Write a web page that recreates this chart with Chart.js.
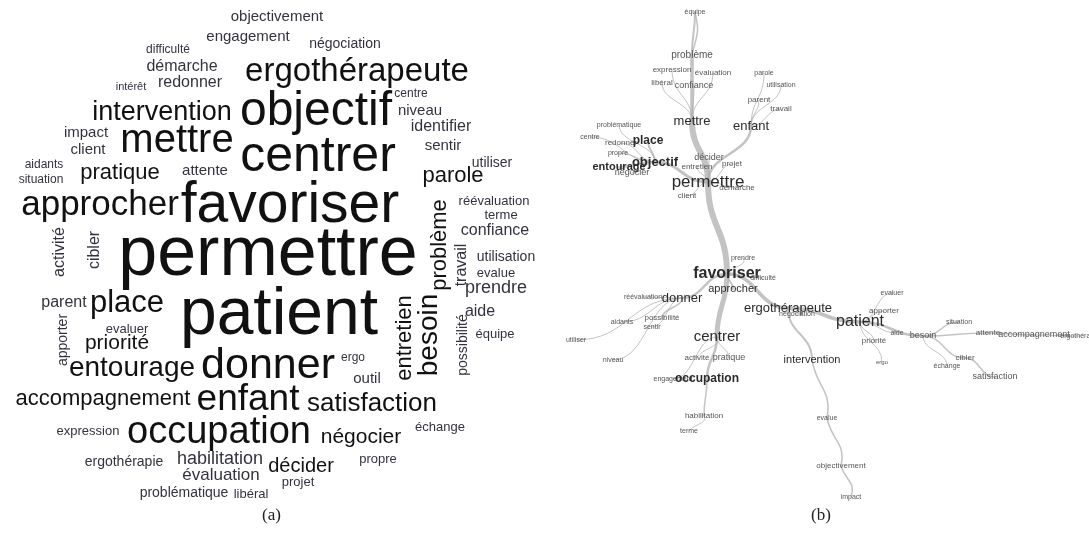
<!DOCTYPE html>
<html>
<head>
<meta charset="utf-8">
<script src="https://cdn.jsdelivr.net/npm/chart.js@4"></script>
<style>
  html, body { margin: 0; padding: 0; background: #fff; }
  #page { position: relative; width: 1089px; height: 541px; overflow: hidden; }
  .panel { position: absolute; top: 0; height: 541px; }
  #left { left: 0; width: 545px; }
  #right { left: 545px; width: 544px; }
  .cap { position: absolute; top: 505px; font: 17px "Liberation Serif", "DejaVu Serif", serif; color: #222; }
</style>
</head>
<body>
<div id="page">
  <div class="panel" id="left"><canvas id="cloud"></canvas></div>
  <div class="panel" id="right"><canvas id="tree"></canvas></div>
  <div class="cap" style="left:262px">(a)</div>
  <div class="cap" style="left:811px">(b)</div>
</div>
<script>
// nuage de mots (a)
const cloudWords = ["objectivement","engagement","difficulté","démarche","négociation","ergothérapeute","intérêt","redonner","centre","niveau",
  "identifier","intervention","objectif","impact","client","mettre","centrer","sentir","utiliser","parole",
  "aidants","situation","pratique","attente","approcher","favoriser","réévaluation","terme","confiance","permettre",
  "activité","cibler","problème","travail","utilisation","evalue","prendre","aide","équipe","possibilité",
  "entretien","besoin","parent","place","patient","apporter","evaluer","priorité","entourage","donner",
  "ergo","outil","accompagnement","enfant","satisfaction","expression","occupation","négocier","échange","ergothérapie",
  "habilitation","décider","propre","évaluation","projet","problématique","libéral"];
const cloudX = [277,248,168,182,345,357,131,190,411,420,
  441,162,316,86,88,177,318,443,492,453,
  44,41,120,205,100,290,494,501,495,268,
  60,95,440,462,506,496,496,480,495,463,
  405,429,64,127,279,63,127,117,132,268,
  353,367,103,248,372,88,219,361,440,124,
  220,301,378,221,298,184,251];
const cloudY = [17,37,50,67,44,72,87,83,94,111,
  127,113,112,133,150,141,157,146,163,176,
  165,180,173,171,205,206,201,215,231,256,
  252,250,245,265,257,273,288,312,334,345,
  338,335,303,303,316,340,329,343,368,366,
  358,379,399,400,404,431,433,437,427,462,
  459,466,459,475,482,493,494];
const cloudSize = [15,15,12,16,14,33,11,16,12,15,
  16,27,48,15,15,40,50,15,14,22,
  12,12,22,15,35,57,13,13,16,70,
  16,16,22,16,14,13,18,16,13,14,
  22,28,16,31,66,14,13,21,28,43,
  12,15,22,37,26,13,38,21,13,14,
  18,20,13,17,13,14,13];
const cloudAngle = [0,0,0,0,0,0,0,0,0,0,
  0,0,0,0,0,0,0,0,0,0,
  0,0,0,0,0,0,0,0,0,0,
  -90,-90,-90,-90,0,0,0,0,0,-90,
  -90,-90,0,0,0,-90,0,0,0,0,
  0,0,0,0,0,0,0,0,0,0,
  0,0,0,0,0,0,0];

// arbre de similitude (b)
const treeNodes = ["équipe","problème","expression","évaluation","libéral","confiance","parole","utilisation","parent","travail",
  "mettre","enfant","problématique","centre","redonner","place","propre","objectif","entourage","négocier",
  "décider","entretien","projet","permettre","démarche","client","prendre","favoriser","difficulté","approcher",
  "réévaluation","donner","ergothérapeute","négociation","possibilité","aidants","sentir","utiliser","centrer","evaluer",
  "apporter","patient","aide","besoin","priorité","situation","attente","accompagnement","ergothérapie","intervention",
  "ergo","cibler","échange","satisfaction","niveau","activité","pratique","engagement","occupation","habilitation",
  "terme","evalue","objectivement","impact"];
const treeX = [695,692,672,713,662,694,764,781,759,781,
  692,751,619,590,621,648,618,655,619,632,
  709,697,732,708,737,687,743,727,763,733,
  643,682,788,797,662,622,652,576,717,892,
  884,860,897,923,874,959,988,1034,1080,812,
  882,965,947,995,613,697,729,673,707,704,
  689,827,841,851];
const treeY = [12,55,70,73,83,86,73,85,100,109,
  121,126,125,137,143,141,153,162,167,173,
  158,167,164,182,188,196,258,274,278,289,
  297,298,308,314,318,322,327,340,337,293,
  311,322,333,336,341,322,333,335,336,360,
  362,358,366,377,360,358,358,379,379,416,
  431,418,466,497];
const treeSize = [7,10,8,8,8,9,7,7,8,8,
  13,13,7,7,8,12,7,13,11,9,
  9,8,8,17,8,8,7,16,7,11,
  7,13,13,7,8,7,7,7,15,7,
  8,16,7,9,8,7,8,9,7,11,
  6,8,7,9,7,8,9,7,12,8,
  7,7,8,7];
const treeBold = ["place","objectif","entourage","favoriser","occupation"];
const edgeFrom = ["problème","problème","mettre","mettre","mettre","mettre","mettre","enfant","enfant","enfant","enfant",
  "permettre","permettre","objectif","objectif","objectif","objectif","objectif","objectif","objectif","permettre",
  "permettre","permettre","permettre","permettre","permettre","permettre","favoriser","favoriser","favoriser","favoriser",
  "donner","donner","donner","donner","donner","donner","favoriser","centrer","centrer","centrer",
  "centrer","occupation","habilitation","favoriser","ergothérapeute","ergothérapeute","intervention","evalue","objectivement","ergothérapeute",
  "patient","patient","patient","patient","patient","patient","besoin","besoin","attente","accompagnement",
  "besoin","besoin","cibler"];
const edgeTo = ["équipe","équipe","problème","expression","évaluation","libéral","confiance","parole","utilisation","parent","travail",
  "mettre","enfant","place","entourage","problématique","centre","redonner","propre","négocier","objectif",
  "décider","entretien","projet","démarche","client","favoriser","prendre","difficulté","approcher","donner",
  "réévaluation","possibilité","aidants","sentir","utiliser","niveau","centrer","activité","pratique","occupation",
  "engagement","habilitation","terme","ergothérapeute","négociation","intervention","evalue","objectivement","impact","patient",
  "evaluer","apporter","priorité","ergo","aide","besoin","situation","attente","accompagnement","ergothérapie",
  "cibler","échange","satisfaction"];
const edgeWeight = [2,1.5,3.5,1,1,1,1,1,1,1,1,
  6,2.5,2,2,1,1,1,1,1,3,
  1,1,1,1,1,6,1,1,2,2.5,
  1,1.5,1,1,1,1,5,1,1,2.5,
  1,1.5,1,3.5,1,2,1.5,1.5,1.5,3.5,
  1,1,1,1,1,2.5,1.5,1.5,1.5,1,
  1.5,1,1.5];

const FONT = '"Liberation Sans", Arial, sans-serif';

function baseOptions(xmin, xmax) {
    return {
        responsive: false,
        animation: false,
        events: [],
        layout: { padding: 0 },
        plugins: { legend: { display: false }, tooltip: { enabled: false } },
        scales: {
            x: { type: "linear", min: xmin, max: xmax, display: false },
            y: { type: "linear", min: 0, max: 541, reverse: true, display: false },
        },
    };
}

const cloudText = {
    id: "cloudText",
    afterDatasetsDraw(chart) {
        const ctx = chart.ctx;
        const xs = chart.scales.x, ys = chart.scales.y;
        ctx.save();
        ctx.textAlign = "center";
        ctx.textBaseline = "middle";
        cloudWords.forEach((w, i) => {
            const s = cloudSize[i];
            ctx.font = s + "px " + FONT;
            ctx.fillStyle = s >= 20 ? "#111" : "#33333f";
            ctx.save();
            ctx.translate(xs.getPixelForValue(cloudX[i]), ys.getPixelForValue(cloudY[i]));
            ctx.rotate(cloudAngle[i] * Math.PI / 180);
            ctx.fillText(w, 0, 0);
            ctx.restore();
        });
        ctx.restore();
    },
};

const treeDraw = {
    id: "treeDraw",
    beforeDatasetsDraw(chart) {
        const ctx = chart.ctx;
        const xs = chart.scales.x, ys = chart.scales.y;
        const pos = name => {
            const i = treeNodes.indexOf(name);
            return [xs.getPixelForValue(treeX[i]), ys.getPixelForValue(treeY[i])];
        };
        ctx.save();
        ctx.strokeStyle = "rgba(175,175,175,0.75)";
        ctx.lineCap = "round";
        edgeFrom.forEach((f, k) => {
            const [x1, y1] = pos(f);
            const [x2, y2] = pos(edgeTo[k]);
            let off = 0;
            if (f === edgeTo[k - 1] || (k > 0 && edgeTo[k] === edgeTo[k - 1])) off = 5;
            ctx.lineWidth = edgeWeight[k];
            ctx.beginPath();
            ctx.moveTo(x1, y1);
            if (Math.abs(y2 - y1) >= Math.abs(x2 - x1)) {
                const my = (y1 + y2) / 2;
                ctx.bezierCurveTo(x1 + off, my, x2 + off, my, x2, y2);
            } else {
                const mx = (x1 + x2) / 2;
                ctx.bezierCurveTo(mx, y1, mx, y2, x2, y2);
            }
            ctx.stroke();
        });
        ctx.restore();
    },
    afterDatasetsDraw(chart) {
        const ctx = chart.ctx;
        const xs = chart.scales.x, ys = chart.scales.y;
        ctx.save();
        ctx.textAlign = "center";
        ctx.textBaseline = "middle";
        treeNodes.forEach((w, i) => {
            const s = treeSize[i];
            const bold = treeBold.includes(w);
            ctx.font = (bold ? "bold " : "") + s + "px " + FONT;
            ctx.fillStyle = s >= 11 ? "#2a2a2a" : "#555";
            ctx.fillText(w, xs.getPixelForValue(treeX[i]), ys.getPixelForValue(treeY[i]));
        });
        ctx.restore();
    },
};

function makeCanvas(id, w) {
    const c = document.getElementById(id);
    c.width = w;
    c.height = 541;
    c.style.width = w + "px";
    c.style.height = "541px";
    return c;
}

new Chart(makeCanvas("cloud", 545), {
    type: "scatter",
    data: {
        datasets: [{
            data: cloudWords.map((w, i) => ({ x: cloudX[i], y: cloudY[i] })),
            pointRadius: 0,
        }],
    },
    options: baseOptions(0, 545),
    plugins: [cloudText],
});

new Chart(makeCanvas("tree", 544), {
    type: "scatter",
    data: {
        datasets: [{
            data: treeNodes.map((w, i) => ({ x: treeX[i], y: treeY[i] })),
            pointRadius: 0,
        }],
    },
    options: baseOptions(545, 1089),
    plugins: [treeDraw],
});
</script>
</body>
</html>
